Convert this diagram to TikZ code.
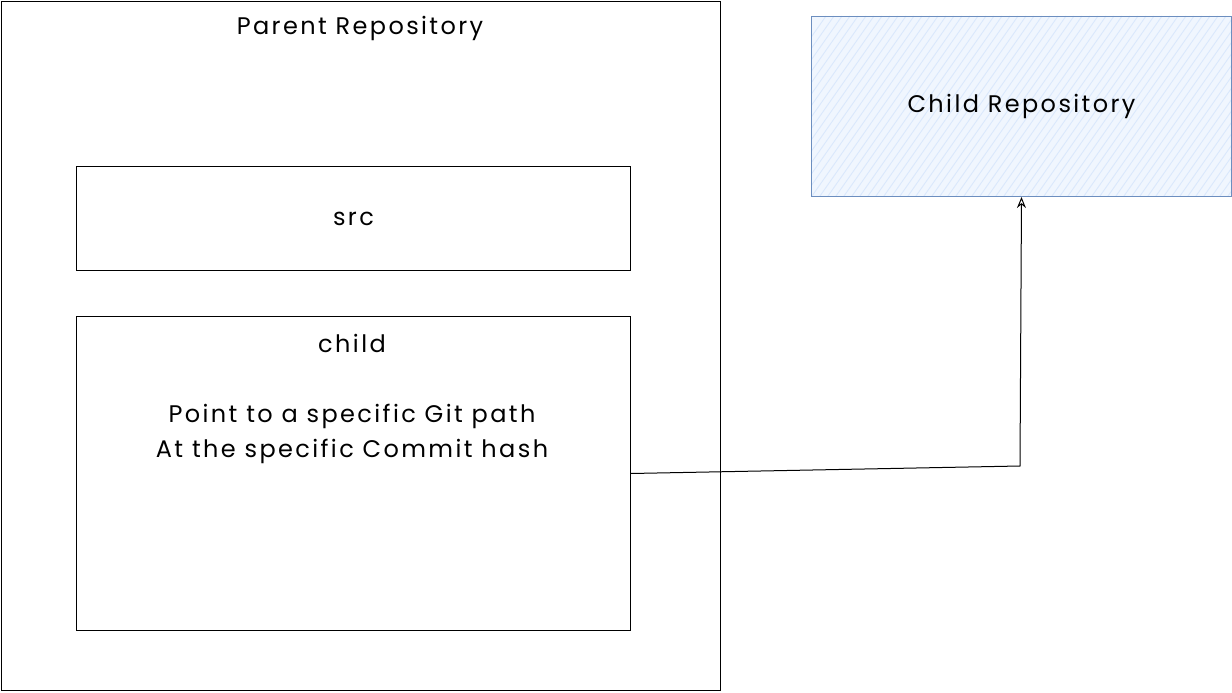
\documentclass[tikz,border=0pt]{standalone}
\usepackage{fontspec}
\setmainfont{Poppins}[LetterSpace=10]
\usetikzlibrary{positioning, arrows.meta}

\definecolor{childfill}{HTML}{DAE8FC}
\definecolor{childline}{HTML}{6C8EBF}

\tikzset{
  box/.style={draw=black, line width=1pt, inner sep=0pt},
  label/.style={font=\fontsize{24}{35}\selectfont, align=center, inner sep=0pt},
  link/.style={draw=black, line width=1pt, -{Stealth[open, length=11pt, width=9pt]}}
}

\begin{document}
\begin{tikzpicture}[x=1pt, y=-1pt]
\useasboundingbox (0,0) rectangle (1232,693);

% parent repository
\node[box, minimum width=719pt, minimum height=689pt, anchor=north west] (parent) at (1,1) {};
\node[label] (parentlabel) at (360,28) {Parent Repository};

% src and child folders
\node[box, minimum width=554pt, minimum height=104pt, anchor=north west] (src) at (76,166) {};
\node[label] (srclabel) at (src.center) {src};

\node[box, minimum width=554pt, minimum height=314pt, anchor=north west] (child) at (76,316) {};
\node[label] (childlabel) at (352,343) {child};
\node[label] (childtext) at (352,434) {Point to a specific Git path\\At the specific Commit hash};

% child repository, hatched fill
\fill[childfill!40] (811,16) rectangle (1231,196);
\begin{scope}
  \clip (811,16) rectangle (1231,196);
  \foreach \i in {0,...,80} {
    \draw[childfill, line width=0.9pt] ({700+8*\i},196) -- ({700+8*\i+126},16);
  }
\end{scope}
\node[draw=childline, line width=1pt, minimum width=420pt, minimum height=180pt, anchor=north west] (repo) at (811,16) {};
\node[label] (repolabel) at (repo.center) {Child Repository};

% link from child to child repository
\coordinate (bend) at (1020,466);
\draw[link] (child.east) -- (bend) -- (repo.south);

\end{tikzpicture}
\end{document}
